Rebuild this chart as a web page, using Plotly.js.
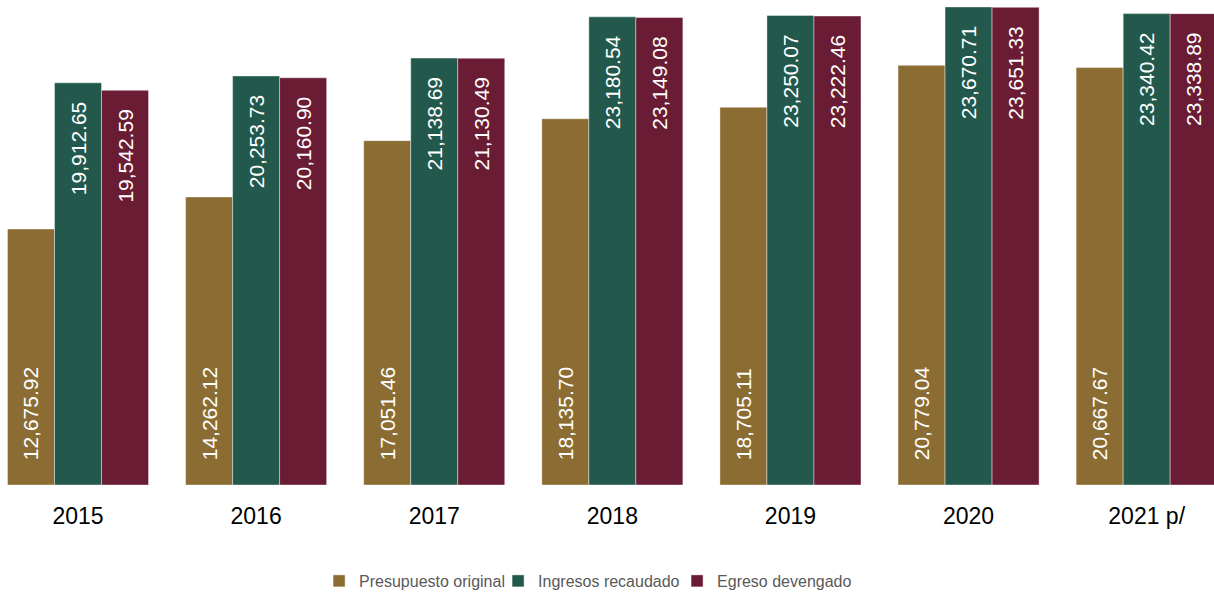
<!DOCTYPE html>
<html>
<head>
<meta charset="utf-8">
<script src="https://cdn.plot.ly/plotly-3.0.1.min.js"></script>
<style>html,body{margin:0;padding:0;background:#fff;}#chart{width:1214px;height:592px;}</style>
</head>
<body>
<div id="chart"></div>
<script>
const categories = ["2015", "2016", "2017", "2018", "2019", "2020", "2021 p/"];
const seriesNames = ["Presupuesto original", "Ingresos recaudado", "Egreso devengado"];
const presupuesto = [12675.92, 14262.12, 17051.46, 18135.70, 18705.11, 20779.04, 20667.67];
const ingresos = [19912.65, 20253.73, 21138.69, 23180.54, 23250.07, 23670.71, 23340.42];
const egreso = [19542.59, 20160.90, 21130.49, 23149.08, 23222.46, 23651.33, 23338.89];
const colors = ["#8B6D34", "#23594C", "#691C33"];

const NB = "\u00A0";
const TS = "\u2009";
function fmt(v){ return v.toLocaleString("en-US",{minimumFractionDigits:2, maximumFractionDigits:2}); }

function makeTrace(name, vals, color, anchor){
  return {
    type: "bar",
    name: name,
    x: categories,
    y: vals,
    text: vals.map(v => anchor === "start" ? NB+NB+NB+TS+fmt(v) : fmt(v)+NB+NB+TS),
    textposition: "inside",
    insidetextanchor: anchor,
    textangle: -90,
    constraintext: "none",
    textfont: {family: "Liberation Sans, Arial, sans-serif", size: 21, color: "#ffffff"},
    marker: {color: color, line: {color: "rgba(255,255,255,0.55)", width: 0.75}},
    hoverinfo: "none"
  };
}

const data = [
  makeTrace(seriesNames[0], presupuesto, colors[0], "start"),
  makeTrace(seriesNames[1], ingresos, colors[1], "end"),
  makeTrace(seriesNames[2], egreso, colors[2], "end")
];

const layout = {
  width: 1214, height: 592,
  margin: {l: 0, r: 0, t: 0, b: 107, autoexpand: false},
  paper_bgcolor: "#ffffff", plot_bgcolor: "#ffffff",
  barmode: "group",
  bargap: 0.208,
  bargroupgap: 0,
  showlegend: true,
  legend: {
    orientation: "h", x: 0.484, xanchor: "center",
    yref: "container", y: 0.0186, yanchor: "middle",
    font: {family: "Liberation Sans, Arial, sans-serif", size: 16, color: "#595959"},
    itemwidth: 30, entrywidth: 134, traceorder: "normal"
  },
  xaxis: {
    type: "category",
    range: [-0.438, 6.378],
    automargin: false,
    showgrid: false, zeroline: false, showline: false, ticks: "",
    tickfont: {family: "Liberation Sans, Arial, sans-serif", size: 23, color: "#000000"},
    ticklabelstandoff: 15
  },
  yaxis: {
    range: [0, 24015],
    automargin: false,
    visible: false, showgrid: false, zeroline: false
  },
  uniformtext: {mode: false}
};

Plotly.newPlot("chart", data, layout, {displayModeBar: false, staticPlot: true});
</script>
</body>
</html>
